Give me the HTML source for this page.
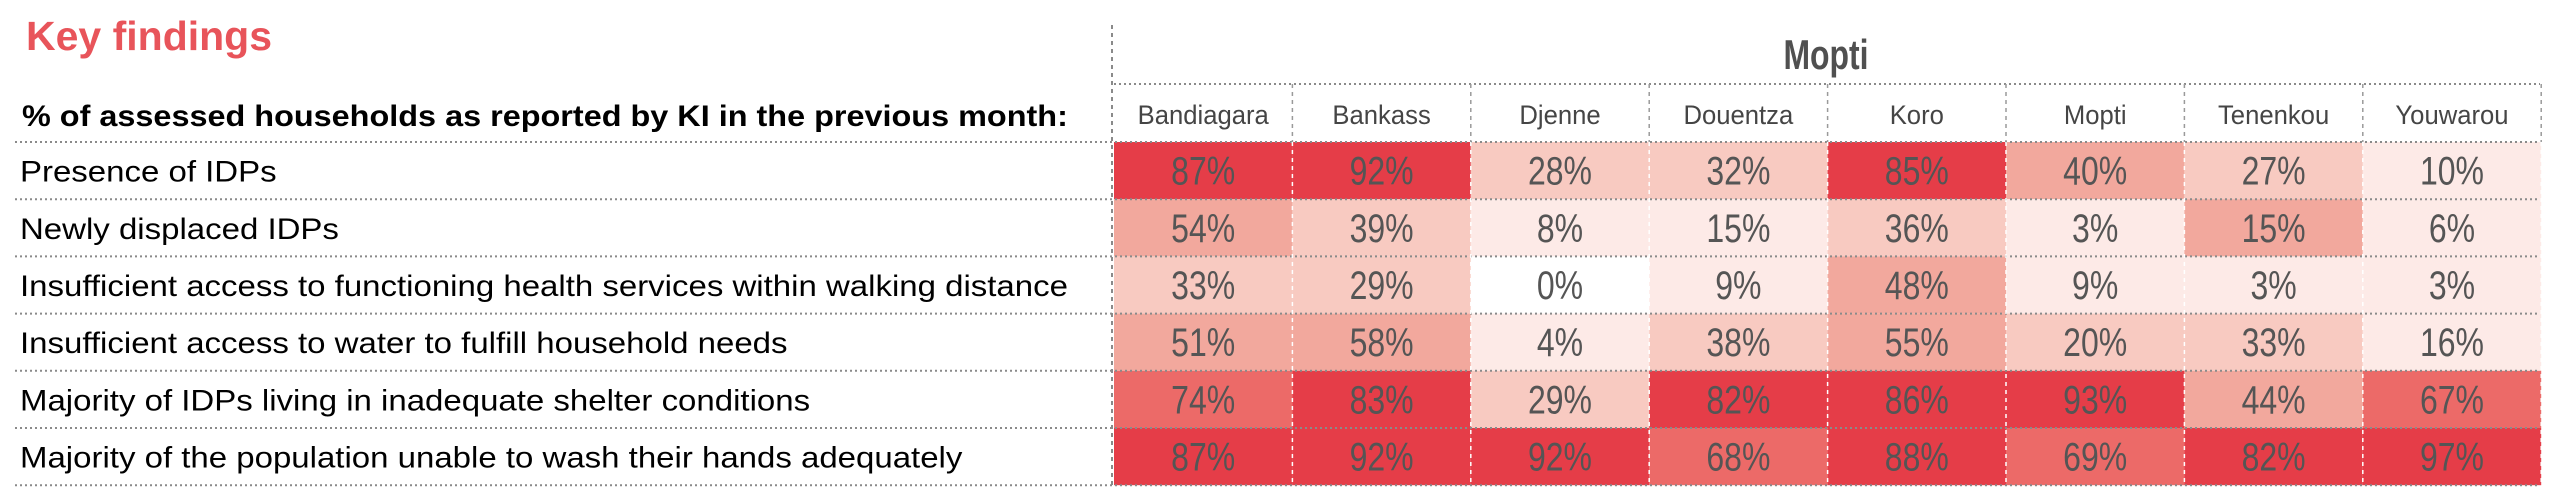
<!DOCTYPE html>
<html><head><meta charset="utf-8"><style>
html,body{margin:0;padding:0;background:#fff;}
svg{display:block;font-family:"Liberation Sans",sans-serif;}
</style></head><body>
<svg id="chart" width="2560" height="498" viewBox="0 0 2560 498">
<text x="26" y="50" font-size="41" font-weight="bold" fill="#e8545a" transform="translate(26 0) scale(1.0 1) translate(-26 0)">Key findings</text>
<text x="1826" y="69" font-size="42" font-weight="bold" fill="#505050" text-anchor="middle" transform="translate(1826 0) scale(0.76 1) translate(-1826 0)">Mopti</text>
<text x="22" y="126" font-size="30" font-weight="bold" fill="#000" transform="translate(22 0) scale(1.08 1) translate(-22 0)">% of assessed households as reported by KI in the previous month:</text>
<g id="cells"></g>
<g id="lines"></g>
</svg>
<script>
const districts = ["Bandiagara","Bankass","Djenne","Douentza","Koro","Mopti","Tenenkou","Youwarou"];
const indicators = ["Presence of IDPs","Newly displaced IDPs","Insufficient access to functioning health services within walking distance","Insufficient access to water to fulfill household needs","Majority of IDPs living in inadequate shelter conditions","Majority of the population unable to wash their hands adequately"];
const row0 = [87,92,28,32,85,40,27,10];
const row1 = [54,39,8,15,36,3,15,6];
const row2 = [33,29,0,9,48,9,3,3];
const row3 = [51,58,4,38,55,20,33,16];
const row4 = [74,83,29,82,86,93,44,67];
const row5 = [87,92,92,68,88,69,82,97];
const values = [row0,row1,row2,row3,row4,row5];
// colour class per cell (0 = white ... 5 = darkest)
const lev0 = [5,5,2,2,5,3,2,1];
const lev1 = [3,2,1,1,2,1,3,1];
const lev2 = [2,2,0,1,3,1,1,1];
const lev3 = [3,3,1,2,3,2,2,1];
const lev4 = [4,5,2,5,5,5,3,4];
const lev5 = [5,5,5,4,5,4,5,5];
const levels = [lev0,lev1,lev2,lev3,lev4,lev5];
const palette = ["#ffffff","#fdeae7","#f8cac1","#f2a89d","#ec6a68","#e53d48"];

const NS="http://www.w3.org/2000/svg";
const x0=1114, colW=178.4, headTop=84, rowTop=142, rowH=57.2;
const colX = i => x0 + i*colW;
const rowY = j => rowTop + j*rowH;
function mk(tag, attrs, parent){const e=document.createElementNS(NS,tag);for(const k in attrs)e.setAttribute(k,attrs[k]);parent.appendChild(e);return e;}
const cells=document.getElementById('cells'), lines=document.getElementById('lines');

districts.forEach((d,i)=>{
  const cx=colX(i)+colW/2;
  const t=mk('text',{x:cx,y:124,'font-size':27,fill:'#454545','text-anchor':'middle',transform:`translate(${cx} 0) scale(0.95 1) translate(${-cx} 0)`},cells);
  
  
  t.textContent=d;
});
indicators.forEach((lab,j)=>{
  const t=mk('text',{x:20,y:rowY(j)+rowH/2+11,'font-size':30,fill:'#000',transform:`translate(20 0) scale(1.1 1) translate(-20 0)`},cells);
  
  
  t.textContent=lab;
  values[j].forEach((v,i)=>{
    const r=mk('rect',{x:colX(i),y:rowY(j),width:colW,height:rowH,fill:palette[levels[j][i]]},cells);
    
    
    const cx=colX(i)+colW/2;
    const tx=mk('text',{x:cx,y:rowY(j)+rowH/2+14,'font-size':40,fill:'#555','text-anchor':'middle',transform:`translate(${cx} 0) scale(0.8 1) translate(${-cx} 0)`},cells);
    
    
    tx.textContent=v+'%';
  });
});
const hy=[headTop]; for(let j=0;j<=indicators.length;j++) hy.push(rowY(j));
hy.forEach((y,k)=>{
  const l=mk('line',{x1:k==0?x0:15,x2:2540,y1:y,y2:y,stroke:'#8a8a8a','stroke-width':2,'stroke-dasharray':'2 3'},lines);
  
  
});
const lv=mk('line',{x1:1112,x2:1112,y1:25,y2:488,stroke:'#8a8a8a','stroke-width':2,'stroke-dasharray':'4 4'},lines);


for(let i=1;i<=districts.length;i++){
  const v=mk('line',{x1:colX(i),x2:colX(i),y1:headTop,y2:rowTop,stroke:'#9a9a9a','stroke-width':1.5,'stroke-dasharray':'4 4'},lines);
  
  
  const w=mk('line',{x1:colX(i),x2:colX(i),y1:rowTop,y2:rowY(indicators.length),stroke:'#ffffff','stroke-width':1.5,'stroke-dasharray':'4 4'},lines);
  
  
}
</script>
</body></html>
